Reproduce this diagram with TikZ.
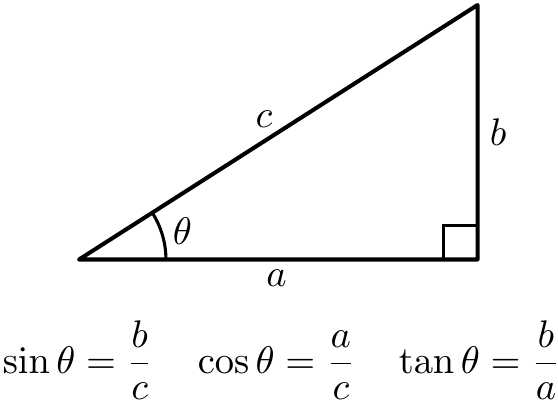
\documentclass[tikz,border=0pt]{standalone}
\usepackage{amsmath}
\usetikzlibrary{calc, angles}

\begin{document}
\begin{tikzpicture}[x=0.26pt, y=0.26pt,
		side/.style={line width=1.05pt, line join=round},
		anglemark/.style={draw, line width=0.8pt},
		rightmark/.style={line width=0.55pt},
		formula/.style={anchor=base west, inner sep=0pt}]
		\useasboundingbox (0,0) rectangle (558,402);
		\coordinate (A) at (79,142.5);
		\coordinate (B) at (477.5,142.5);
		\coordinate (C) at (477.5,397);
		\draw[side] (A) -- (B) -- (C) -- cycle;
		\draw[rightmark] ($(B)+(-34,0)$) |- ($(B)+(0,34)$);
		\pic[anglemark, angle radius=22.6pt] {angle = B--A--C};
		
		\node (theta) at (182.5,171) {$\theta$};
		\node (c) at (264,283) {$c$};
		\node (b) at (498,269.5) {$b$};
		\node (a) at (276.5,123.5) {$a$};
		
		\node[formula] (sinf) at (2,29) {$\sin\theta = \dfrac{b}{c}$};
		\node[formula] (cosf) at (197,29) {$\cos\theta = \dfrac{a}{c}$};
		\node[formula] (tanf) at (398,29) {$\tan\theta = \dfrac{b}{a}$};
	\end{tikzpicture}
\end{document}
